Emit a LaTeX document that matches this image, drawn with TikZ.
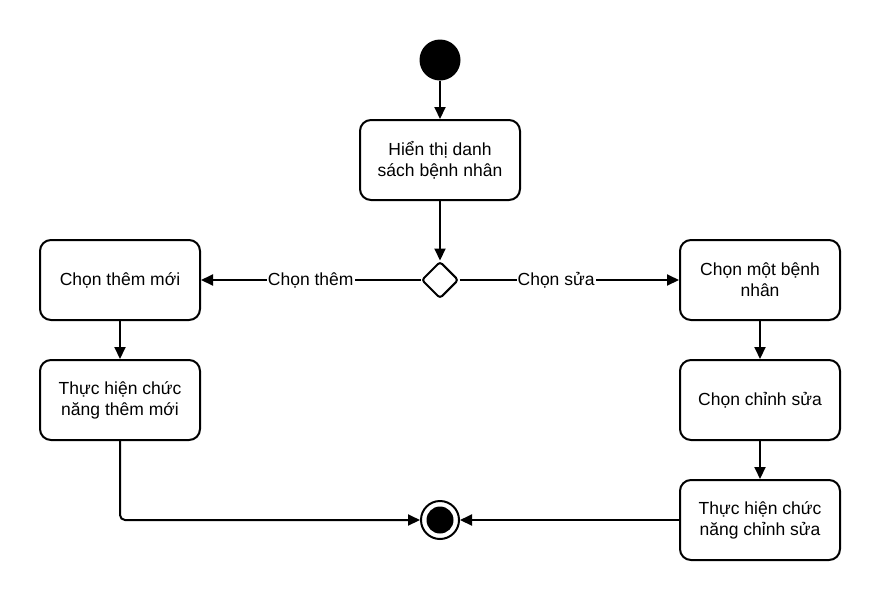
\documentclass[tikz,border=0pt]{standalone}
\usepackage{fontspec}
\setmainfont{Liberation Sans}
\usetikzlibrary{arrows.meta,shapes.geometric}
\begin{document}
\begin{tikzpicture}[x=1pt,y=-1pt,
  every node/.style={font=\fontsize{17.5}{21}\selectfont},
  act/.style={draw=black,line width=2pt,rounded corners=11pt,fill=white,
    minimum width=160pt,minimum height=80pt,align=center,inner sep=0pt},
  flow/.style={draw=black,line width=2pt,-{Triangle[length=12pt,width=11pt]}},
  lbl/.style={fill=white,inner sep=1pt}]
\useasboundingbox (0,0) rectangle (880,600);
\node[circle,fill=black,minimum size=41pt,inner sep=0pt] (start) at (440,60) {};
\node[act] (show) at (440,160) {Hiển thị danh\\sách bệnh nhân};
\node[diamond,draw=black,line width=2pt,rounded corners=3pt,fill=white,minimum size=37pt,inner sep=0pt] (dec) at (440,280) {};
\node[act] (add) at (120,280) {Chọn thêm mới};
\node[act] (doadd) at (120,400) {Thực hiện chức\\năng thêm mới};
\node[act] (pick) at (760,280) {Chọn một bệnh\\nhân};
\node[act] (edit) at (760,400) {Chọn chỉnh sửa};
\node[act] (doedit) at (760,520) {Thực hiện chức\\năng chỉnh sửa};
\node[circle,draw=black,line width=2pt,fill=white,minimum size=38pt,inner sep=0pt] (end) at (440,520) {};
\node[circle,fill=black,minimum size=27pt,inner sep=0pt] (endin) at (440,520) {};
\draw[flow] (start) -- (show);
\draw[flow] (show) -- (dec);
\draw[flow] (dec) -- node[lbl,pos=0.5]{Chọn thêm} (add);
\draw[flow] (dec) -- node[lbl,pos=0.44]{Chọn sửa} (pick);
\draw[flow] (add) -- (doadd);
\draw[flow] (pick) -- (edit);
\draw[flow] (edit) -- (doedit);
\draw[flow,rounded corners=5pt] (doadd.south) |- (end.west);
\draw[flow] (doedit.west) -- (end.east);
\end{tikzpicture}
\end{document}
